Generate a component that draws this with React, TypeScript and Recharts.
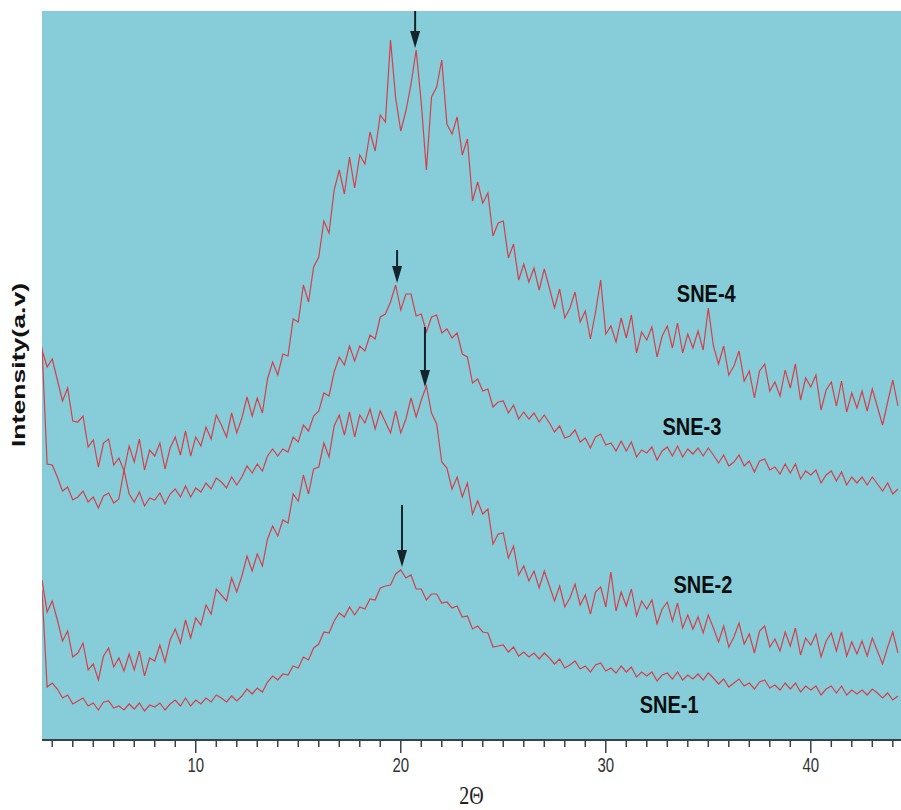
import { LineChart, Line, XAxis, YAxis, CartesianGrid, ReferenceDot } from 'recharts'

// XRD scan: 2θ from 2.5° in 0.25° steps (168 points)
const SCAN_START = 2.5
const SCAN_STEP = 0.25

// intensities (a.u.), one row per 2° of scan
const SNE4 = [
  390, 373, 381, 360, 339, 352, 319, 318,
  324, 293, 300, 273, 297, 301, 275, 282,
  269, 294, 278, 301, 270, 290, 284, 297,
  271, 292, 303, 285, 309, 284, 303, 294,
  313, 301, 325, 315, 303, 327, 307, 322,
  343, 324, 342, 327, 361, 378, 365, 386,
  384, 421, 418, 455, 438, 473, 483, 519,
  507, 550, 570, 546, 583, 552, 585, 576,
  608, 589, 625, 618, 700, 642, 609, 629,
  656, 690, 637, 570, 643, 653, 680, 616,
  606, 623, 585, 601, 539, 558, 537, 547,
  504, 517, 519, 482, 496, 460, 476, 458,
  472, 450, 471, 452, 432, 451, 422, 432,
  448, 418, 429, 401, 428, 460, 406, 414,
  398, 422, 402, 425, 387, 408, 400, 413,
  383, 404, 414, 392, 417, 387, 406, 392,
  409, 390, 432, 394, 376, 394, 365, 374,
  389, 359, 369, 342, 369, 376, 349, 358,
  344, 370, 352, 376, 340, 362, 353, 365,
  330, 350, 358, 334, 359, 328, 347, 332,
  349, 329, 351, 333, 315, 338, 360, 334,
]

const SNE3 = [
  393, 276, 275, 263, 249, 253, 240, 243,
  249, 238, 243, 232, 244, 247, 237, 241,
  270, 246, 238, 248, 234, 242, 240, 247,
  236, 246, 251, 243, 254, 243, 252, 248,
  257, 251, 262, 258, 252, 263, 255, 263,
  274, 267, 276, 269, 284, 291, 284, 291,
  288, 303, 298, 315, 309, 324, 329, 347,
  344, 368, 383, 375, 394, 379, 394, 389,
  405, 401, 423, 426, 438, 455, 430, 446,
  446, 424, 426, 408, 423, 425, 407, 411,
  402, 407, 386, 383, 357, 361, 349, 351,
  333, 338, 339, 327, 335, 321, 328, 321,
  327, 318, 325, 317, 308, 314, 302, 304,
  310, 298, 302, 292, 303, 306, 295, 297,
  289, 299, 289, 298, 283, 290, 287, 293,
  280, 289, 293, 284, 294, 283, 291, 286,
  292, 284, 292, 285, 277, 285, 274, 278,
  285, 274, 279, 268, 279, 281, 270, 273,
  266, 276, 267, 276, 261, 269, 265, 270,
  257, 265, 269, 259, 268, 255, 263, 257,
  263, 255, 263, 256, 249, 257, 246, 251,
]

const SNE2 = [
  160, 128, 139, 120, 99, 109, 83, 87,
  97, 70, 76, 60, 84, 92, 73, 82,
  69, 86, 70, 89, 64, 82, 79, 95,
  78, 100, 111, 97, 120, 102, 122, 115,
  135, 126, 151, 145, 139, 162, 148, 164,
  184, 169, 186, 174, 201, 214, 204, 220,
  217, 246, 239, 265, 246, 271, 273, 297,
  283, 314, 325, 305, 328, 303, 325, 317,
  331, 311, 329, 318, 307, 329, 307, 321,
  342, 323, 340, 354, 327, 316, 278, 272,
  251, 263, 243, 257, 226, 239, 226, 231,
  196, 206, 207, 182, 194, 165, 174, 159,
  169, 152, 169, 154, 139, 154, 133, 142,
  156, 135, 145, 126, 148, 153, 133, 168,
  129, 148, 134, 151, 124, 139, 131, 140,
  116, 131, 138, 119, 137, 112, 125, 111,
  123, 107, 125, 112, 98, 114, 93, 103,
  117, 96, 106, 87, 109, 114, 93, 101,
  89, 108, 94, 112, 85, 102, 95, 106,
  83, 99, 107, 89, 108, 84, 98, 86,
  99, 84, 102, 89, 76, 93, 108, 87,
]

const SNE1 = [
  150, 53, 57, 51, 42, 45, 36, 39,
  42, 34, 37, 30, 38, 39, 32, 34,
  30, 36, 31, 37, 29, 35, 33, 37,
  30, 36, 40, 34, 42, 34, 40, 36,
  42, 38, 45, 42, 38, 44, 39, 44,
  51, 46, 52, 48, 58, 64, 60, 66,
  65, 74, 72, 83, 80, 92, 96, 108,
  107, 119, 127, 123, 133, 125, 133, 131,
  141, 140, 152, 154, 155, 166, 170, 162,
  165, 151, 151, 140, 146, 146, 137, 138,
  132, 134, 123, 124, 111, 114, 108, 107,
  93, 94, 95, 88, 93, 84, 88, 83,
  87, 81, 87, 82, 76, 81, 72, 75,
  79, 71, 74, 68, 75, 77, 69, 72,
  67, 74, 68, 73, 63, 68, 64, 68,
  59, 65, 67, 61, 68, 60, 65, 61,
  66, 60, 67, 62, 56, 61, 53, 57,
  61, 54, 57, 51, 58, 60, 52, 55,
  50, 57, 51, 57, 48, 54, 50, 54,
  45, 51, 54, 47, 54, 45, 50, 46,
  50, 45, 51, 47, 42, 47, 40, 44,
]

const xTicks = [3, 4, 5, 6, 7, 8, 9, 10, 11, 12, 13, 14, 15, 16, 17, 18, 19, 20, 21, 22, 23, 24,
  25, 26, 27, 28, 29, 30, 31, 32, 33, 34, 35, 36, 37, 38, 39, 40, 41, 42, 43, 44]

const seriesLabels = [
  { text: 'SNE-4', x: 34.9, y: 438 },
  { text: 'SNE-3', x: 34.2, y: 305 },
  { text: 'SNE-2', x: 34.74, y: 147 },
  { text: 'SNE-1', x: 33.09, y: 27 },
]

// peak markers: 2θ and intensity at the arrow tip
const peakArrows = [
  { x: 20.7, y: 692, len: 37 },
  { x: 19.82, y: 457, len: 33 },
  { x: 21.18, y: 353, len: 60 },
  { x: 20.06, y: 173, len: 62 },
]

const data = SNE1.map((v, i) => ({
  angle: SCAN_START + i * SCAN_STEP,
  sne1: v,
  sne2: SNE2[i],
  sne3: SNE3[i],
  sne4: SNE4[i],
}))

const SANS = '"Liberation Sans", Arial, sans-serif'
const LINE = '#d4404a'
const AXIS = '#35434c'

function AngleTick({ x, y, payload }: any) {
  const major = payload.value % 10 === 0
  return (
    <g>
      <line x1={x} x2={x} y1={y} y2={y + (major ? 13 : 7)} stroke={AXIS} strokeWidth={1.5} />
      {major && (
        <text transform={`translate(${x} ${y + 32}) scale(1 1.4)`} textAnchor="middle" fontSize={15} fontFamily={SANS} fill="#333">
          {payload.value}
        </text>
      )}
    </g>
  )
}

function Arrow({ cx, cy, len }: { cx: number; cy: number; len: number }) {
  return (
    <g>
      <line x1={cx} x2={cx} y1={cy - len} y2={cy - 12} stroke="#15232a" strokeWidth={2} />
      <path d={`M${cx - 5},${cy - 17} L${cx + 5},${cy - 17} L${cx},${cy} Z`} fill="#15232a" />
    </g>
  )
}

export default function App() {
  return (
    <div style={{ position: 'absolute', left: 0, top: 0, width: 901, height: 810, background: '#fff' }}>
      <LineChart width={901} height={810} data={data} margin={{ top: 11, right: 0, left: 42, bottom: 0 }}>
        <CartesianGrid horizontal={false} vertical={false} fill="#86cdd9" stroke="none" />
        <XAxis
          dataKey="angle"
          type="number"
          domain={[2.5, 44.4]}
          allowDataOverflow
          ticks={xTicks}
          interval={0}
          height={70}
          tickSize={0}
          tickMargin={0}
          tickLine={false}
          axisLine={{ stroke: AXIS, strokeWidth: 2 }}
          tick={<AngleTick />}
          label={{
            content: ({ viewBox }: any) => (
              <text
                transform={`translate(${viewBox.x + viewBox.width / 2} ${viewBox.y + 64}) scale(1 1.25)`}
                textAnchor="middle"
                fontSize={20}
                fontFamily='"Liberation Serif", "Times New Roman", serif'
                fill="#222"
              >
                2Θ
              </text>
            ),
          }}
        />
        <YAxis
          type="number"
          domain={[0, 729]}
          allowDataOverflow
          width={0}
          tick={false}
          tickLine={false}
          axisLine={{ stroke: '#8fa6ac', strokeWidth: 1.5 }}
        />
        <Line type="linear" dataKey="sne4" stroke={LINE} strokeWidth={1.2} dot={false} isAnimationActive={false} />
        <Line type="linear" dataKey="sne3" stroke={LINE} strokeWidth={1.2} dot={false} isAnimationActive={false} />
        <Line type="linear" dataKey="sne2" stroke={LINE} strokeWidth={1.2} dot={false} isAnimationActive={false} />
        <Line type="linear" dataKey="sne1" stroke={LINE} strokeWidth={1.2} dot={false} isAnimationActive={false} />
        {/* y-axis title, anchored to the left edge of the plot */}
        <ReferenceDot
          x={2.5}
          y={375}
          r={1}
          ifOverflow="visible"
          shape={(p: any) => (
            <text
              transform={`translate(${p.cx - 17} ${p.cy}) rotate(-90) scale(1.48 1)`}
              textAnchor="middle"
              fontSize={18}
              fontWeight="bold"
              fontFamily={SANS}
              fill="#111"
            >
              Intensity(a.v)
            </text>
          )}
        />
        {peakArrows.map((a, i) => (
          <ReferenceDot
            key={'arrow' + i}
            x={a.x}
            y={a.y}
            r={1}
            ifOverflow="visible"
            shape={(p: any) => <Arrow cx={p.cx} cy={p.cy} len={a.len} />}
          />
        ))}
        {seriesLabels.map((l) => (
          <ReferenceDot
            key={l.text}
            x={l.x}
            y={l.y}
            r={1}
            ifOverflow="visible"
            shape={(p: any) => (
              <text
                transform={`translate(${p.cx} ${p.cy}) scale(1 1.17)`}
                textAnchor="middle"
                fontSize={20}
                fontWeight="bold"
                fontFamily={SANS}
                fill="#0d0d0d"
              >
                {l.text}
              </text>
            )}
          />
        ))}
      </LineChart>
    </div>
  )
}
